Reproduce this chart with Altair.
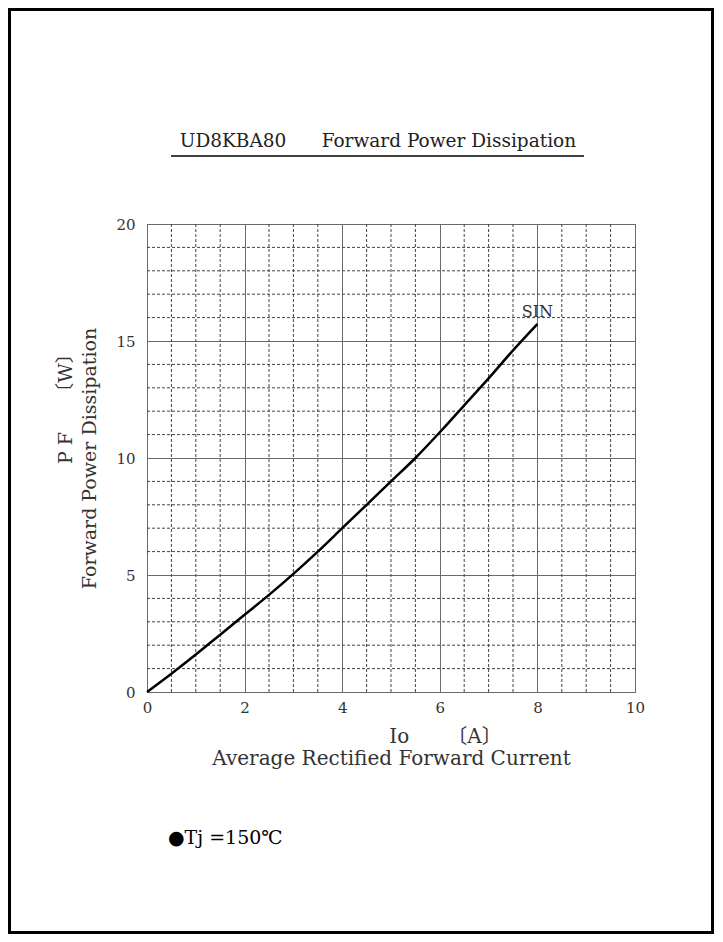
import altair as alt
import pandas as pd

# ---- data ----
io_a = [0, 0.5, 1, 1.5, 2, 2.5, 3, 3.5, 4, 4.5, 5, 5.5, 6, 6.5, 7, 7.5, 8]
pf_w = [0, 0.78, 1.6, 2.45, 3.3, 4.15, 5.05, 6.0, 7.0, 8.0, 9.0, 10.0, 11.1, 12.25, 13.4, 14.6, 15.73]
series_label = ["SIN"]

x_major = [0, 2, 4, 6, 8, 10]
y_major = [0, 5, 10, 15, 20]
x_minor = [0.5, 1, 1.5, 2.5, 3, 3.5, 4.5, 5, 5.5, 6.5, 7, 7.5, 8.5, 9, 9.5]
y_minor = [1, 2, 3, 4, 6, 7, 8, 9, 11, 12, 13, 14, 16, 17, 18, 19]

NB = "\u00a0"
ZW = "\u200b"
title_text = ["UD8KBA80" + NB * 6 + "Forward Power Dissipation"]
x_title = [ZW + NB * 17 + "Io" + NB * 6 + "〔A〕", "Average Rectified Forward Current"]
y_title = [ZW + NB * 18 + "P" + NB + "F" + NB * 5 + "〔W〕", "Forward Power Dissipation"]
note_text = ["●Tj =150℃"]

FONT = "DejaVu Serif, Noto Sans CJK JP"
W, H = 488, 468

x_scale = alt.Scale(domain=[0, 10], nice=False, zero=False)
y_scale = alt.Scale(domain=[0, 20], nice=False, zero=False)

x_axis = alt.Axis(
    values=x_major, grid=True, gridColor="#6a6a6a", gridWidth=1,
    ticks=False, domain=False, format="d", labelFlush=False,
    labelFont=FONT, labelFontSize=15, labelColor="#333", labelPadding=8,
    title=x_title, titleFont=FONT, titleFontSize=20, titleFontWeight="normal",
    titleColor="#333", titlePadding=11, titleLineHeight=22,
)
y_axis = alt.Axis(
    values=y_major, grid=True, gridColor="#6a6a6a", gridWidth=1,
    ticks=False, domain=False, format="d", labelFlush=False,
    labelFont=FONT, labelFontSize=15, labelColor="#333", labelPadding=12,
    title=y_title, titleFont=FONT, titleFontSize=19, titleFontWeight="normal",
    titleColor="#333", titlePadding=16, titleLineHeight=24,
)
X = alt.X("Io:Q", scale=x_scale, axis=x_axis)
Y = alt.Y("PF:Q", scale=y_scale, axis=y_axis)

minor_x = alt.Chart(pd.DataFrame({"Io": x_minor})).mark_rule(
    color="#444", strokeDash=[3, 2], strokeWidth=1
).encode(x=X)

minor_y = alt.Chart(pd.DataFrame({"PF": y_minor})).mark_rule(
    color="#444", strokeDash=[3, 2], strokeWidth=1
).encode(y=Y)

curve = alt.Chart(pd.DataFrame({"Io": io_a, "PF": pf_w})).mark_line(
    color="black", strokeWidth=2.5, interpolate="monotone"
).encode(x=X, y=Y)

sin_df = pd.DataFrame({"Io": [io_a[-1]], "PF": [pf_w[-1]], "t": series_label})
sin_text = alt.Chart(sin_df).mark_text(
    font=FONT, fontSize=16, color="#333", align="center", baseline="alphabetic", dy=-7
).encode(x=X, y=Y, text="t:N")

one = pd.DataFrame({"a": [0]})
title_mark = alt.Chart(pd.DataFrame({"t": title_text})).mark_text(
    font=FONT, fontSize=18.5, color="#222", align="center", baseline="alphabetic"
).encode(x=alt.value(231), y=alt.value(-77), text="t:N")

underline = alt.Chart(one).mark_rule(color="black", strokeWidth=1.5).encode(
    x=alt.value(24), x2=alt.value(437), y=alt.value(-68)
)

frame = alt.Chart(one).mark_rect(
    fill="white", fillOpacity=0, stroke="black", strokeWidth=3
).encode(
    x=alt.value(-137.5), x2=alt.value(565.5), y=alt.value(-214.5), y2=alt.value(708.5)
)

note = alt.Chart(pd.DataFrame({"t": note_text})).mark_text(
    font=FONT, fontSize=19, color="black", align="left", baseline="middle"
).encode(x=alt.value(21), y=alt.value(614), text="t:N")

chart = alt.layer(
    minor_x, minor_y, curve, sin_text, title_mark, underline, frame, note
).properties(
    width=W,
    height=H,
    autosize=alt.AutoSizeParams(type="none"),
    padding={"left": 139, "top": 216, "right": 80, "bottom": 242},
).configure_view(stroke="#666", strokeWidth=1)

chart.save("out.html", embed_options={"renderer": "svg", "actions": False})
